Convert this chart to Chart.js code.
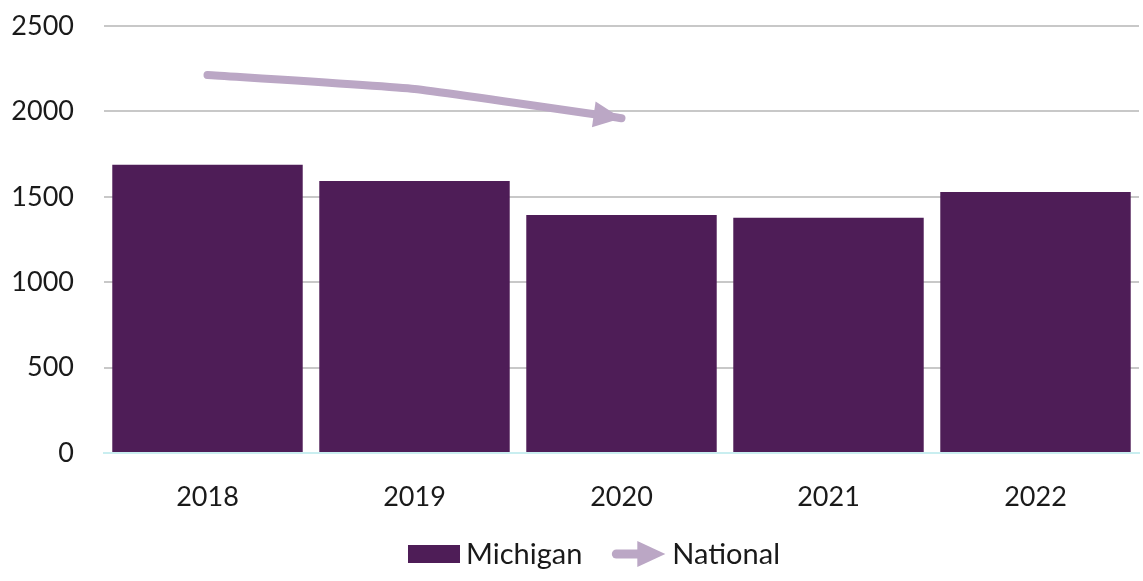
<!DOCTYPE html>
<html>
<head>
<meta charset="utf-8">
<script src="https://cdn.jsdelivr.net/npm/chart.js@4"></script>
<style>
  html, body { margin: 0; padding: 0; background: #fff; }
  #wrap { width: 1143px; height: 581px; }
</style>
</head>
<body>
<div id="wrap"><canvas id="chart"></canvas></div>
<script>
// datos
const years = ['2018', '2019', '2020', '2021', '2022'];
const michigan = [1688, 1592, 1393, 1377, 1528];
const national = [2213, 2131, 1960, null, null];
const yTicks = [0, 500, 1000, 1500, 2000, 2500];

const BAR_COLOR = '#4e1d57';
const LINE_COLOR = '#bba7c5';
const TEXT_COLOR = '#1a1a1a';
const FONT = 'Lato, "Noto Sans", sans-serif';

// punta de flecha (se usa en la serie y en la leyenda)
function drawArrowHead(ctx, x, y, ang) {
    const len = 28, half = 13;
    ctx.save();
    ctx.translate(x, y);
    ctx.rotate(ang);
    ctx.fillStyle = LINE_COLOR;
    ctx.beginPath();
    ctx.moveTo(0, 0);
    ctx.lineTo(-len, -half);
    ctx.lineTo(-len, half);
    ctx.closePath();
    ctx.fill();
    ctx.restore();
}

const arrowHead = {
    id: 'arrowHead',
    afterDatasetsDraw(chart) {
        const pts = chart.getDatasetMeta(0).data.filter((p, i) => national[i] !== null);
        if (pts.length < 2) return;
        const a = pts[pts.length - 2], b = pts[pts.length - 1];
        drawArrowHead(chart.ctx, b.x, b.y, Math.atan2(b.y - a.y, b.x - a.x));
    }
};

// leyenda dibujada a mano (Michigan / National)
const customLegend = {
    id: 'customLegend',
    afterDraw(chart) {
        const ctx = chart.ctx;
        ctx.save();
        ctx.font = '29px ' + FONT;
        ctx.textBaseline = 'middle';
        ctx.fillStyle = TEXT_COLOR;
        const wMi = ctx.measureText('Michigan').width;
        const wNa = ctx.measureText('National').width;
        const total = 52 + 6 + wMi + 29 + 54 + 7 + wNa;
        const y = 554;
        let x = 594 - total / 2;
        ctx.fillStyle = BAR_COLOR;
        ctx.fillRect(x, y - 9, 52, 18);
        x += 58;
        ctx.fillStyle = TEXT_COLOR;
        ctx.fillText('Michigan', x, y + 1);
        x += wMi + 29;
        ctx.strokeStyle = LINE_COLOR;
        ctx.lineWidth = 9;
        ctx.lineCap = 'round';
        ctx.beginPath();
        ctx.moveTo(x + 5, y);
        ctx.lineTo(x + 30, y);
        ctx.stroke();
        drawArrowHead(ctx, x + 54, y, 0);
        x += 61;
        ctx.fillStyle = TEXT_COLOR;
        ctx.fillText('National', x, y + 1);
        ctx.restore();
    }
};

new Chart(document.getElementById('chart'), {
    data: {
        labels: years,
        datasets: [{
            type: 'line',
            label: 'National',
            data: national,
            borderColor: LINE_COLOR,
            borderWidth: 8,
            borderCapStyle: 'round',
            tension: 0.12,
            pointRadius: 0,
            order: 0
        }, {
            type: 'bar',
            label: 'Michigan',
            data: michigan,
            backgroundColor: BAR_COLOR,
            categoryPercentage: 1,
            barPercentage: 0.92,
            order: 1
        }]
    },
    options: {
        responsive: true,
        maintainAspectRatio: false,
        animation: false,
        layout: { padding: { top: 26, right: 4, left: 8, bottom: 0 } },
        scales: {
            x: {
                grid: { display: false },
                border: { color: '#c9eef0', width: 2 },
                ticks: { color: TEXT_COLOR, font: { family: FONT, size: 27 }, padding: 20 },
                afterFit: axis => { axis.height = 128; }
            },
            y: {
                min: 0, max: 2500,
                afterBuildTicks: axis => { axis.ticks = yTicks.map(v => ({ value: v })); },
                afterFit: axis => {
                    axis.width = 96;
                    axis.paddingTop = 0;
                    axis.paddingBottom = 0;
                },
                grid: { color: '#c8c8c8', lineWidth: 2, drawTicks: false },
                border: { display: false },
                ticks: {
                    color: TEXT_COLOR, font: { family: FONT, size: 27 }, padding: 30,
                    callback: v => String(v)
                }
            }
        },
        plugins: {
            legend: { display: false },
            tooltip: { enabled: false }
        }
    },
    plugins: [arrowHead, customLegend]
});
</script>
</body>
</html>
